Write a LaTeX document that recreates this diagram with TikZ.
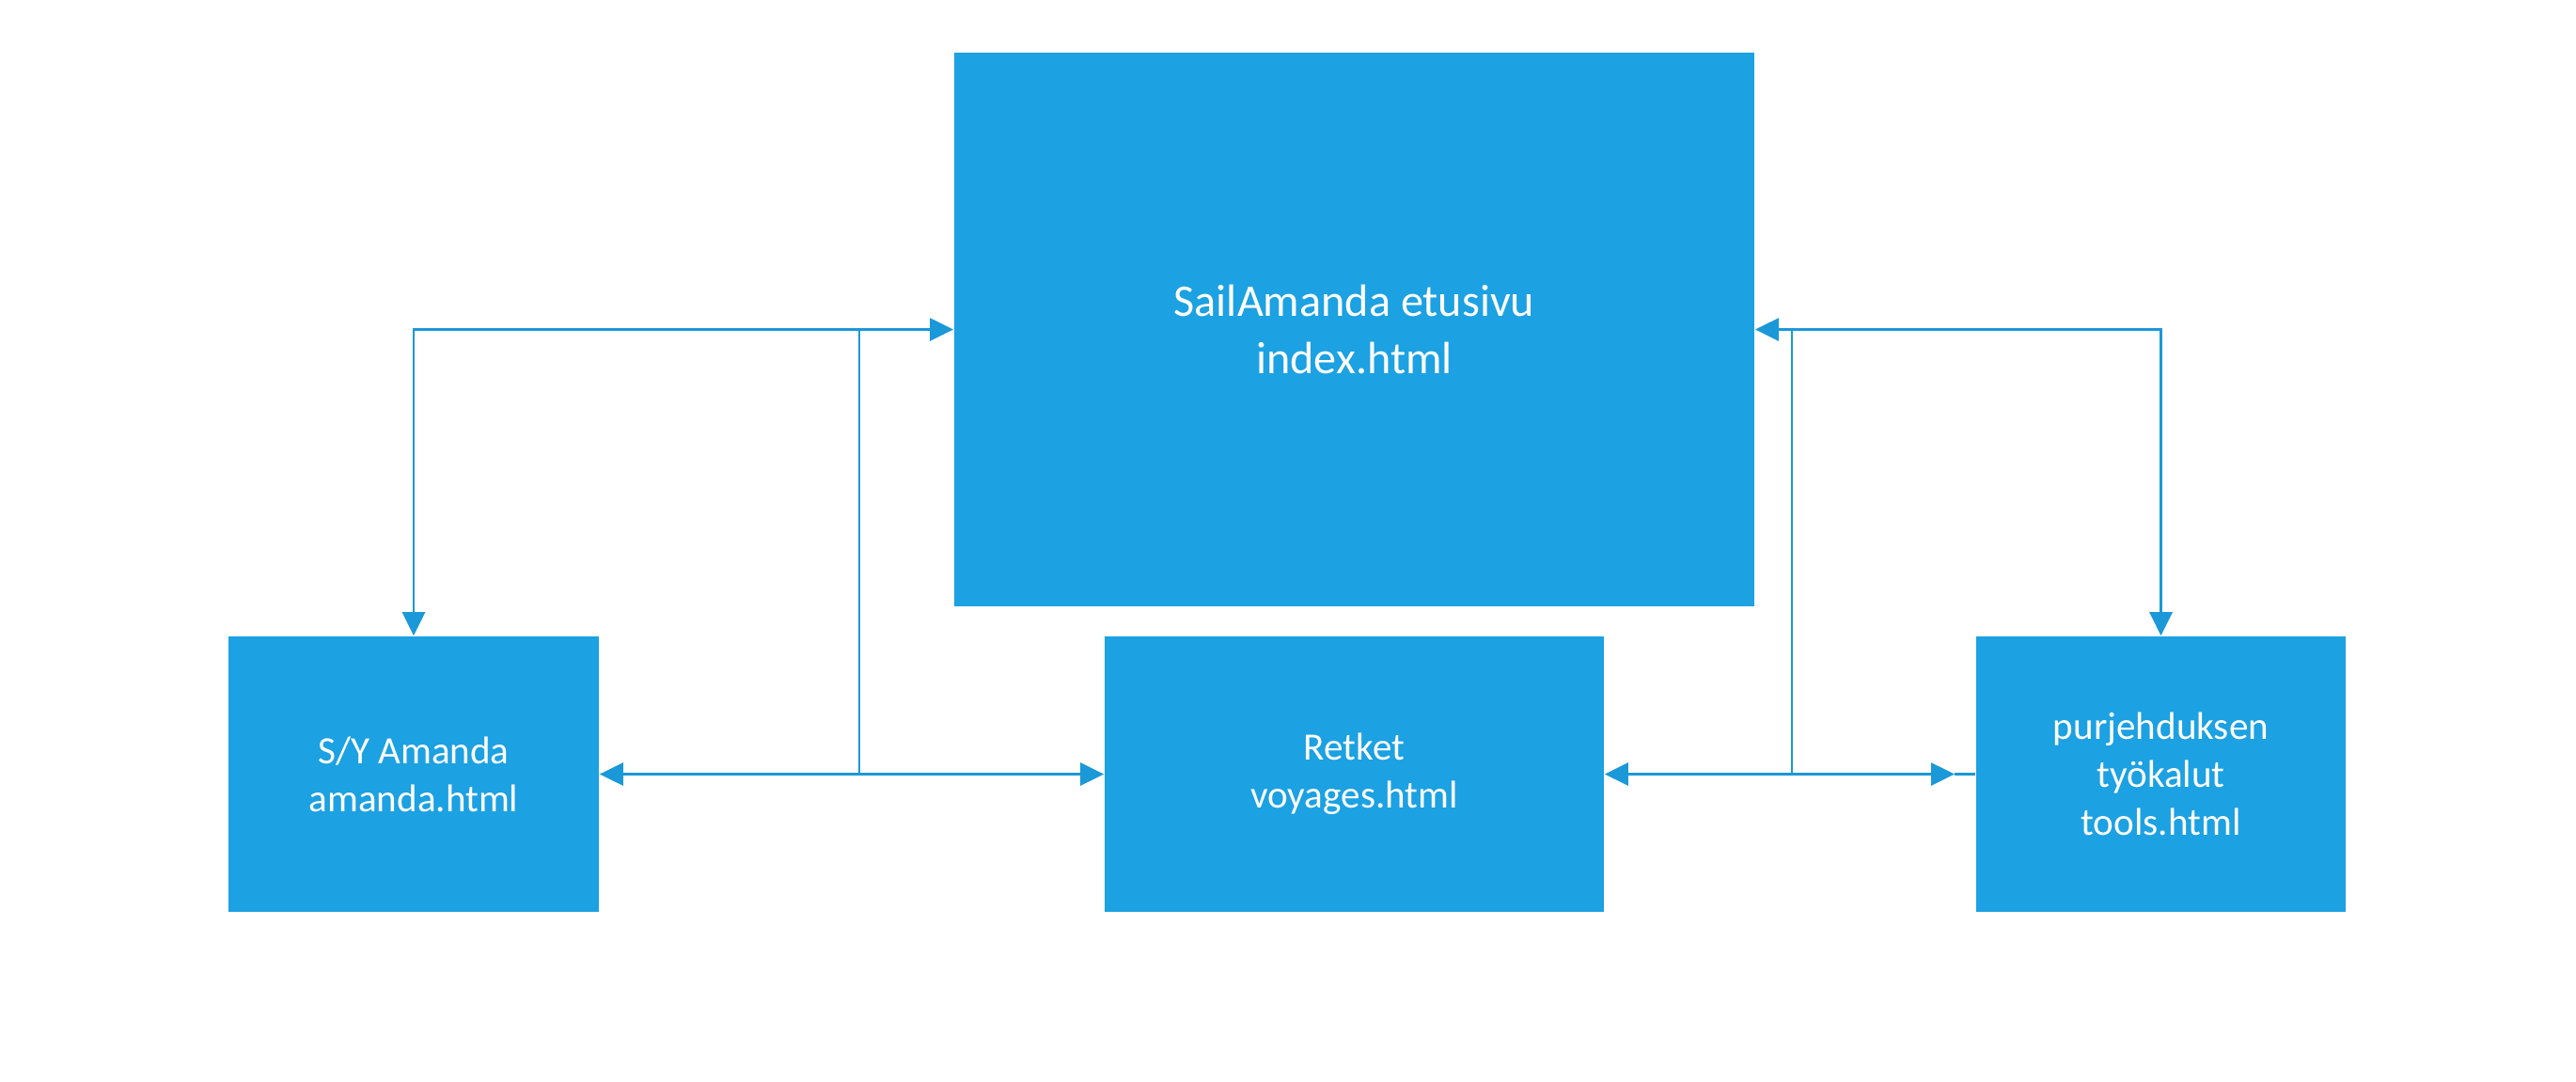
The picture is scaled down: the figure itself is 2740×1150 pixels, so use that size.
\documentclass[tikz,border=0pt]{standalone}
\usepackage{fontspec}
\setmainfont{Carlito}
\usetikzlibrary{arrows.meta}
\definecolor{boxblue}{RGB}{28,161,226}
\definecolor{lineblue}{RGB}{27,152,216}
\tikzset{
  pagebox/.style={fill=boxblue, draw=none, inner sep=0pt, text=white, align=center},
  bigtext/.style={font=\fontsize{13.7}{17.1}\selectfont},
  smalltext/.style={font=\fontsize{11.7}{14.5}\selectfont},
  conn/.style={draw=lineblue, line width=0.75pt},
  tip/.style={-{Triangle[length=0.25cm,width=0.24cm]}},
  tips/.style={{Triangle[length=0.25cm,width=0.24cm]}-{Triangle[length=0.25cm,width=0.24cm]}}
}
\begin{document}
\begin{tikzpicture}[x=0.01cm,y=-0.01cm]
\useasboundingbox[fill=white] (0,0) rectangle (2740,1150);
\node[pagebox,bigtext,minimum width=8.51cm,minimum height=5.89cm] (top) at (1440.5,350.5) {SailAmanda etusivu\\index.html};
\node[pagebox,smalltext,minimum width=3.94cm,minimum height=2.93cm] (left) at (440,823.5) {S/Y Amanda\\amanda.html};
\node[pagebox,smalltext,minimum width=5.31cm,minimum height=2.93cm] (mid) at (1440.5,823.5) {Retket\\voyages.html};
\node[pagebox,smalltext,minimum width=3.93cm,minimum height=2.93cm] (right) at (2298.5,823.5) {purjehduksen\\työkalut\\tools.html};
\coordinate (j1) at (914,823.5);
\coordinate (j2) at (1906,823.5);
\coordinate (rt) at (2079,823.5);
\draw[conn,tips] (left.north) |- (top.west);
\draw[conn,tips] (right.north) |- (top.east);
\draw[conn] (j1) -- (j1 |- top.west);
\draw[conn] (j2) -- (j2 |- top.east);
\draw[conn,tip] (j1) -- (left.east);
\draw[conn,tip] (j1) -- (mid.west);
\draw[conn,tip] (j2) -- (mid.east);
\draw[conn,tip] (j2) -- (rt);
\draw[conn] (rt) -- (right.west);
\end{tikzpicture}
\end{document}
